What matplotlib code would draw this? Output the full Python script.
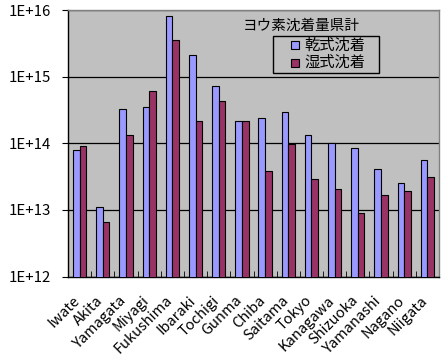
import matplotlib
matplotlib.use("Agg")
import matplotlib.pyplot as plt
import matplotlib.transforms as mtransforms
from matplotlib.patches import Rectangle
import numpy as np

plt.rcParams['font.family'] = ['Noto Sans CJK JP', 'DejaVu Sans']

prefectures = ["Iwate", "Akita", "Yamagata", "Miyagi", "Fukushima", "Ibaraki", "Tochigi",
               "Gunma", "Chiba", "Saitama", "Tokyo", "Kanagawa", "Shizuoka", "Yamanashi",
               "Nagano", "Niigata"]
dry = [7.9e13, 1.09e13, 3.25e14, 3.5e14, 8.1e15, 2.1e15, 7.2e14,
       2.2e14, 2.38e14, 2.92e14, 1.32e14, 1.03e14, 8.4e13, 4.06e13,
       2.5e13, 5.7e13]
wet = [9.0e13, 6.7e12, 1.32e14, 6.05e14, 3.54e15, 2.2e14, 4.3e14,
       2.2e14, 3.9e13, 9.8e13, 2.9e13, 2.1e13, 8.9e12, 1.65e13,
       1.96e13, 3.08e13]
series_names = ["乾式沈着", "湿式沈着"]
series_colors = ["#9999FF", "#993366"]
legend_title = "ヨウ素沈着量県計"
ytick_vals = [1e12, 1e13, 1e14, 1e15, 1e16]
ytick_labels = ["1E+12", "1E+13", "1E+14", "1E+15", "1E+16"]

W, H = 446, 356
fig = plt.figure(figsize=(W/100, H/100), dpi=100)
ax = fig.add_axes([68/W, 1 - 276.5/H, 371/W, 266.2/H])
ax.set_facecolor("#C0C0C0")

x = np.arange(len(prefectures))
w = 1/3.5
ax.bar(x - w/2, dry, width=w, color=series_colors[0], edgecolor="black", linewidth=0.8,
       label=series_names[0], zorder=3)
ax.bar(x + w/2, wet, width=w, color=series_colors[1], edgecolor="black", linewidth=0.8,
       label=series_names[1], zorder=3)

ax.set_yscale("log")
ax.set_ylim(1e12, 1e16)
ax.set_xlim(-0.5, len(prefectures) - 0.5)
ax.set_yticks(ytick_vals)
ax.set_yticklabels(ytick_labels, fontsize=10.8)
ax.yaxis.set_minor_locator(matplotlib.ticker.NullLocator())
ax.tick_params(axis='y', length=4, direction='out', pad=8.5)
ax.grid(axis='y', color='black', linewidth=0.9, zorder=1)

ax.set_xticks(x)
ax.set_xticklabels(prefectures, rotation=45, ha='right', va='top',
                   rotation_mode='anchor', fontsize=10.5)
ax.tick_params(axis='x', length=0, pad=12)
offset = mtransforms.ScaledTranslation(-0.07, 0, fig.dpi_scale_trans)
for lab in ax.get_xticklabels():
    lab.set_transform(lab.get_transform() + offset)
ax.set_xticks(np.arange(len(prefectures) + 1) - 0.5, minor=True)
ax.tick_params(axis='x', which='minor', length=4, direction='in')

for s in ['left', 'bottom']:
    ax.spines[s].set_color('black')
    ax.spines[s].set_linewidth(1.0)
for s in ['top', 'right']:
    ax.spines[s].set_color('#808080')
    ax.spines[s].set_linewidth(1.0)

# Legend (Excel-style) drawn in figure pixel layout
fig.text(243/W, 1 - 26/H, legend_title, fontsize=10.5, va='center', ha='left')
fig.patches.append(Rectangle((272.7/W, 1 - 73.3/H), (379.3-272.7)/W, (73.3-36)/H,
                             transform=fig.transFigure, facecolor='none',
                             edgecolor='black', linewidth=1.0, zorder=5))
for i, (name, col) in enumerate(zip(series_names, series_colors)):
    yc = 45 + i * 17.7
    fig.patches.append(Rectangle((290.7/W, 1 - (yc + 4)/H), 8/W, 8/H,
                                 transform=fig.transFigure, facecolor=col,
                                 edgecolor='black', linewidth=0.8, zorder=6))
    fig.text(304/W, 1 - yc/H, name, fontsize=11, va='center', ha='left', zorder=6)

fig.savefig("out.png", dpi=100)
